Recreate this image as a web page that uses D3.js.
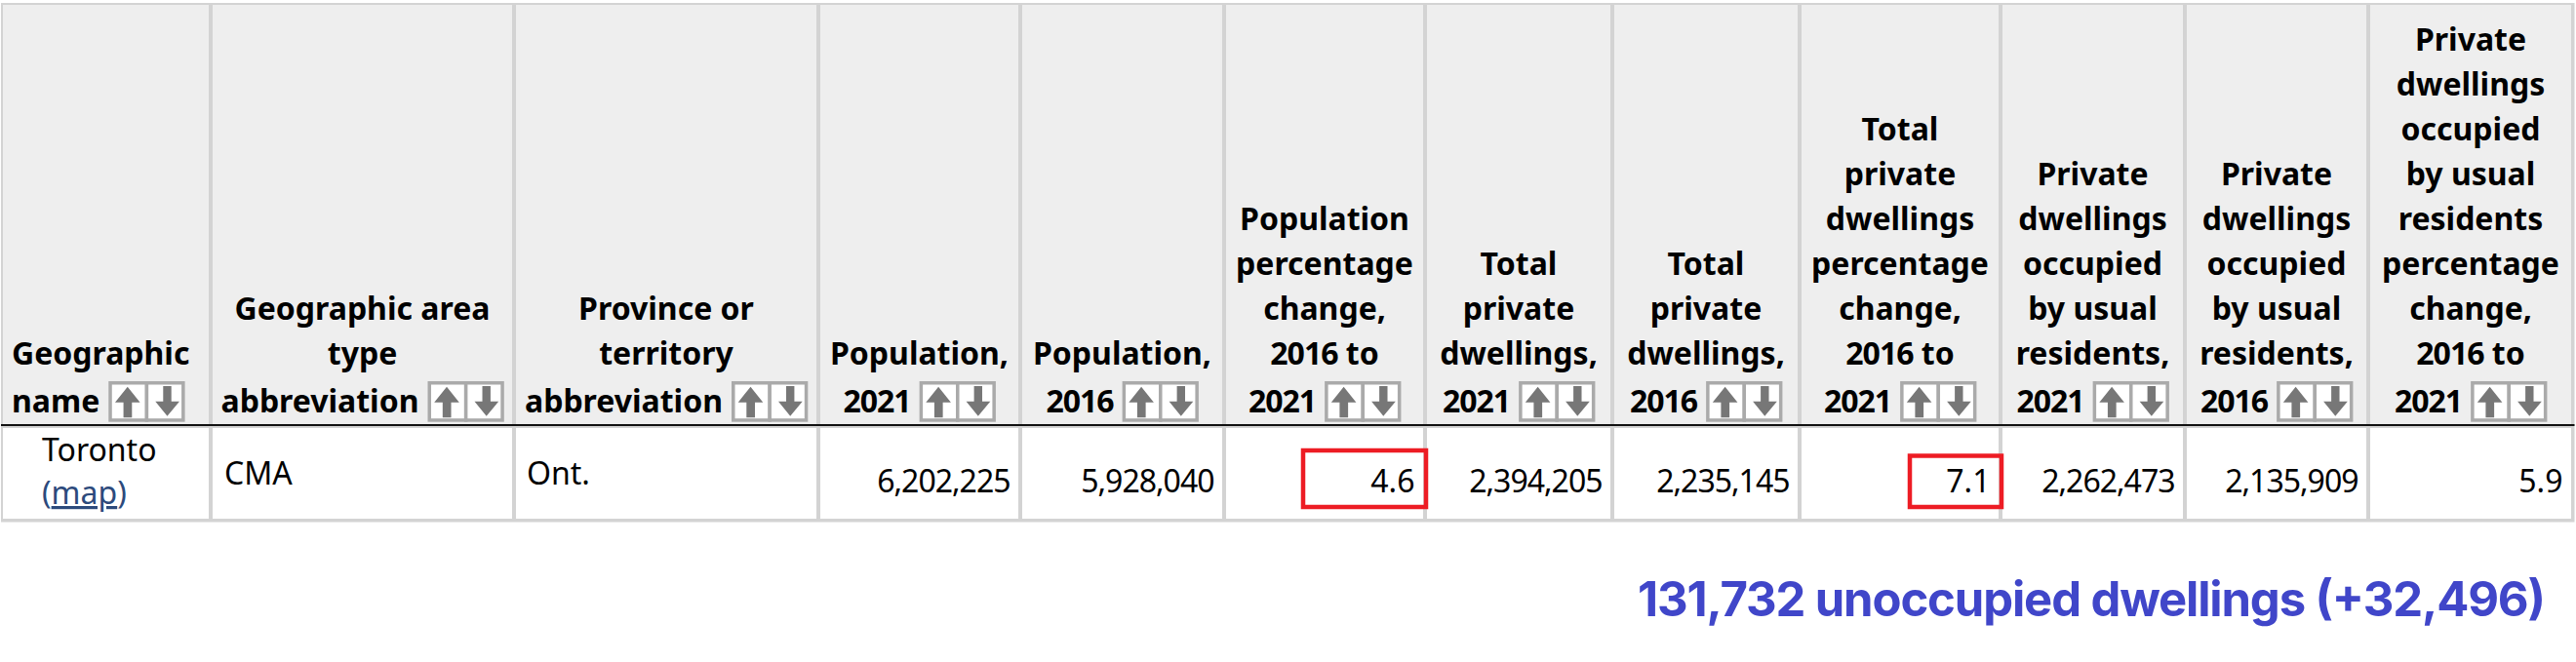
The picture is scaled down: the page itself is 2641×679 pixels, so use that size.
<!DOCTYPE html>
<html><head><meta charset="utf-8">
<script src="https://cdn.jsdelivr.net/npm/d3@7/dist/d3.min.js"></script>
<style>
html,body{margin:0;padding:0;background:#fff;}
svg{display:block;}
text{font-family:"Noto Sans",sans-serif;fill:#000;}
.dg{letter-spacing:-1px;}
</style></head><body>
<svg id="c" width="2641" height="679"></svg>
<script>
const headerLines = [
  ["Geographic","name"],
  ["Geographic area","type","abbreviation"],
  ["Province or","territory","abbreviation"],
  ["Population,","2021"],
  ["Population,","2016"],
  ["Population","percentage","change,","2016 to","2021"],
  ["Total","private","dwellings,","2021"],
  ["Total","private","dwellings,","2016"],
  ["Total","private","dwellings","percentage","change,","2016 to","2021"],
  ["Private","dwellings","occupied","by usual","residents,","2021"],
  ["Private","dwellings","occupied","by usual","residents,","2016"],
  ["Private","dwellings","occupied","by usual","residents","percentage","change,","2016 to","2021"]
];
const geoName = "Toronto";
const geoLink = "map";
const areaType = "CMA";
const province = "Ont.";
const population = [6202225, 5928040];
const populationChange = 4.6;
const dwellings = [2394205, 2235145];
const dwellingsChange = 7.1;
const occupied = [2262473, 2135909];
const occupiedChange = 5.9;
const highlighted = [5, 8];
const caption = "131,732 unoccupied dwellings (+32,496)";

// layout
const edges = [3,216,527,839,1046,1255,1461,1653,1845,2051,2240,2428,2638];
const idx = d3.range(headerLines.length);
const left = i => edges[i] + (i ? 2 : 0), right = i => edges[i+1] - 2;
const xMid = d3.scaleOrdinal(idx, idx.map(i => (left(i) + right(i)) / 2));
const headBase = 423, lineGap = 46, lastGap = 48.7;
const headTop = 5, headBottom = 435, rowBottom = 532;
const border = "#d3d3d3";
const svg = d3.select("#c");
const fs = 32;

// digit runs are set slightly tighter than the letters
function fill(sel, s){
  s.split(/(\d+)/).filter(p=>p.length).forEach(p=>{
    const t = sel.append("tspan").text(p);
    if(/^\d/.test(p)) t.attr("class","dg");
  });
  return sel;
}

svg.append("rect").attr("x",1).attr("y",3).attr("width",2638.5).attr("height",532.5).attr("fill",border);
svg.append("g").selectAll("rect").data(idx).join("rect")
  .attr("x",left).attr("width",i=>right(i)-left(i)).attr("y",headTop).attr("height",headBottom-headTop).attr("fill","#eeeeee");
svg.append("g").selectAll("rect").data(idx).join("rect")
  .attr("x",left).attr("width",i=>right(i)-left(i)).attr("y",439).attr("height",rowBottom-439).attr("fill","#fff");
svg.append("rect").attr("x",1).attr("y",435).attr("width",2638.5).attr("height",2).attr("fill","#111");

// header text
const heads = svg.append("g").selectAll("g").data(idx).join("g");
heads.each(function(i){
  const g = d3.select(this), lines = headerLines[i], n = lines.length;
  const y = k => k === n-1 ? headBase : headBase - lastGap - (n-2-k)*lineGap;
  const upper = lines.slice(0,-1);
  g.selectAll("text.h").data(upper).join("text").attr("class","h")
    .attr("font-size",fs).attr("font-weight",700)
    .attr("x", i===0 ? 12 : xMid(i)).attr("text-anchor", i===0 ? "start":"middle")
    .attr("y",(d,k)=>y(k)).each(function(d){ fill(d3.select(this), d); });
  const last = g.append("text").attr("font-size",fs).attr("font-weight",700).attr("y",headBase);
  fill(last, lines[n-1]);
  const w = last.node().getComputedTextLength();
  const gap = 9, bw = 78;
  const x0 = i===0 ? 12 : xMid(i) - (w+gap+bw)/2;
  last.attr("x",x0);
  const bx = x0 + w + gap, by = 391;
  const b = g.append("g").attr("transform",`translate(${bx},${by})`);
  b.selectAll("rect").data([0,1]).join("rect")
    .attr("x",d=>1.75+d*37.4).attr("y",1.75).attr("width",37.4).attr("height",38.2)
    .attr("fill","#fff").attr("stroke","#aaaaaa").attr("stroke-width",3.5);
  b.append("path").attr("fill","#777")
    .attr("d","M19.5,5.7L32.3,21.7H24V37.3H15.3V21.7H6.7Z");
  b.append("path").attr("fill","#777")
    .attr("d","M56,5H64.4V20.7H72.7L60.2,35.7L48,20.7H56Z");
});

// row
const cells = [population[0],population[1],populationChange,dwellings[0],dwellings[1],dwellingsChange,occupied[0],occupied[1],occupiedChange];
const fmt = (v) => Number.isInteger(v) ? d3.format(",")(v) : d3.format(".1f")(v);
svg.append("g").selectAll("text").data(cells).join("text")
  .attr("font-size",fs).attr("text-anchor","end")
  .style("letter-spacing",d=>Number.isInteger(d)?"-1px":"0")
  .attr("x",(d,k)=>edges[k+4]-10.5).attr("y",505).text(fmt);
svg.append("text").attr("font-size",fs).attr("x",230).attr("y",497).text(areaType);
svg.append("text").attr("font-size",fs).attr("x",540).attr("y",497).text(province);
svg.append("text").attr("font-size",fs).attr("x",43).attr("y",473).text(geoName);
const lk = svg.append("text").attr("font-size",fs).attr("x",43).attr("y",517).style("fill","#2c4a7c");
lk.append("tspan").text("(");
lk.append("tspan").attr("text-decoration","underline").text(geoLink);
lk.append("tspan").text(")");

// red highlight boxes
const boxes = [[1336,462,1462,520],[1958,467.5,2052,520]];
svg.append("g").selectAll("rect").data(highlighted).join("rect")
  .attr("x",(d,k)=>boxes[k][0]).attr("y",(d,k)=>boxes[k][1])
  .attr("width",(d,k)=>boxes[k][2]-boxes[k][0]).attr("height",(d,k)=>boxes[k][3]-boxes[k][1])
  .attr("fill","none").attr("stroke","#ed1c24").attr("stroke-width",4.5);

svg.append("text").attr("x",1679).attr("y",631.5)
  .attr("font-size",49).attr("font-weight",700)
  .attr("textLength",931).attr("lengthAdjust","spacing")
  .style("font-family","Inter, sans-serif").style("fill","#4046c9").text(caption);
</script>
</body></html>
